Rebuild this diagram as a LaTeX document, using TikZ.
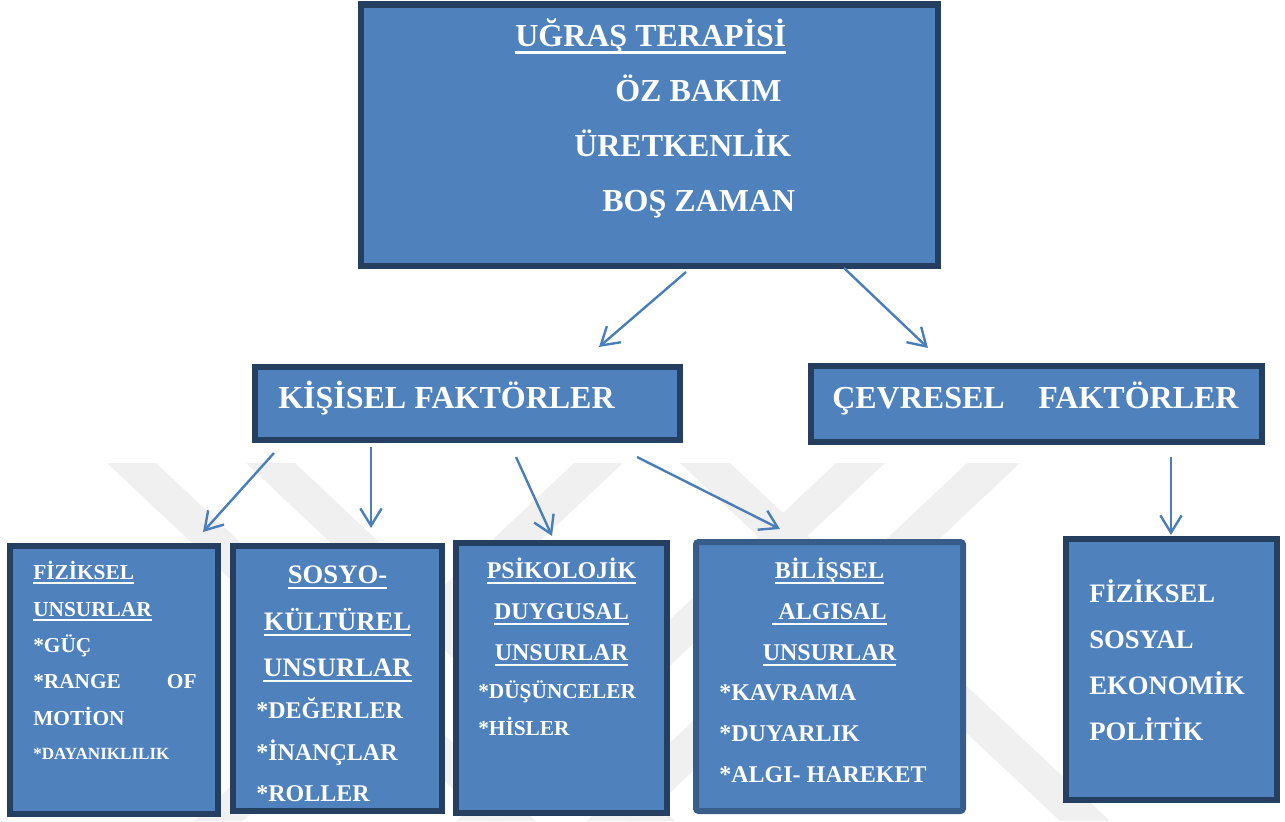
\documentclass[tikz,border=0pt]{standalone}
\usepackage{fontspec}
\setmainfont{Liberation Serif}
\usetikzlibrary{arrows.meta,fit}
\definecolor{boxfill}{HTML}{4F81BD}
\definecolor{boxline}{HTML}{243F60}
\definecolor{boxlinetwo}{HTML}{385D8A}
\definecolor{arrowcol}{HTML}{4A7EBB}
\definecolor{wm}{HTML}{F0F0F0}
\newcommand{\ulx}[1]{\setbox0\hbox{#1}\rlap{\rule[-0.24em]{\wd0}{0.09em}}\box0}
\newcommand{\fs}[1]{\fontsize{#1}{#1}\selectfont\bfseries}
\begin{document}
\begin{tikzpicture}[x=0.75pt,y=-0.75pt,
  box/.style={draw=boxline, fill=boxfill, line width=4.5pt, inner sep=0pt},
  txt/.style={text=white, anchor=base west, inner sep=0pt},
  ctxt/.style={text=white, anchor=base, inner sep=0pt},
  conn/.style={draw=arrowcol, line width=1.8pt, -{Straight Barb[length=13pt,width=16pt,line width=1.8pt]}},
  wmband/.style={fill=wm},
]
\useasboundingbox (0,0) rectangle (1285,821);
% watermark (faint background logo)
\fill[wmband] (107,463) -- (156,463) -- (536,821) -- (487,821) -- cycle;
\fill[wmband] (246,463) -- (295,463) -- (675,821) -- (626,821) -- cycle;
\fill[wmband] (680,463) -- (730,463) -- (1110,821) -- (1060,821) -- cycle;
\fill[wmband] (574,463) -- (623,463) -- (243,821) -- (194,821) -- cycle;
\fill[wmband] (836,463) -- (885,463) -- (505,821) -- (456,821) -- cycle;
\fill[wmband] (967,463) -- (1020,463) -- (640,821) -- (587,821) -- cycle;

% boxes
\node[box, fit={(360.5,4.5) (937.5,265.5)}] (top) {};
\node[box, fit={(255,367) (680,440)}] (kis) {};
\node[box, fit={(811,366) (1262,442)}] (cev) {};
\node[box, fit={(10,546) (218,814)}] (fiz) {};
\node[box, fit={(233,546) (442,811)}] (sos) {};
\node[box, fit={(456,543) (667,813)}] (psi) {};
\node[box, draw=boxlinetwo, rounded corners=2pt, fit={(696,542) (963,811)}] (bil) {};
\node[box, fit={(1066,539) (1277,800)}] (cevd) {};

% top box text
\node[txt, font=\fs{24}] (t1) at (515,46) {\ulx{UĞRAŞ TERAPİSİ}};
\node[txt, font=\fs{24}] (t2) at (615,101) {ÖZ BAKIM};
\node[txt, font=\fs{24}] (t3) at (574,156) {ÜRETKENLİK};
\node[txt, font=\fs{24}] (t4) at (602,211) {BOŞ ZAMAN};

\node[txt, font=\fs{24}] (k1) at (278,408) {KİŞİSEL FAKTÖRLER};
\node[txt, font=\fs{24}] (c1) at (832,408) {ÇEVRESEL};
\node[txt, font=\fs{24}] (c2) at (1038,408) {FAKTÖRLER};

% box 1
\node[txt, font=\fs{16}] (f1) at (33,579) {\ulx{FİZİKSEL}};
\node[txt, font=\fs{16}] (f2) at (33,616) {\ulx{UNSURLAR}};
\node[txt, font=\fs{16}] (f3) at (33,652) {*GÜÇ};
\node[txt, font=\fs{16}] (f4) at (33,688) {\hbox to 122.5pt{*RANGE\hfill OF}};
\node[txt, font=\fs{16}] (f5) at (33,725) {MOTİON};
\node[txt, font=\fs{12.8}] (f6) at (33,759) {*DAYANIKLILIK};

% box 2
\node[ctxt, font=\fs{20}] (s1) at (337.5,583) {\ulx{SOSYO-}};
\node[ctxt, font=\fs{20}] (s2) at (337.5,630) {\ulx{KÜLTÜREL}};
\node[ctxt, font=\fs{20}] (s3) at (337.5,676) {\ulx{UNSURLAR}};
\node[txt, font=\fs{18}] (s4) at (256,718) {*DEĞERLER};
\node[txt, font=\fs{18}] (s5) at (256,760) {*İNANÇLAR};
\begin{scope}
\clip (233,546) rectangle (442,801);
\node[txt, font=\fs{18}] (s6) at (256,801) {*ROLLER};
\end{scope}

% box 3
\node[ctxt, font=\fs{18}] (p1) at (561.5,578) {\ulx{PSİKOLOJİK}};
\node[ctxt, font=\fs{18}] (p2) at (561.5,619) {\ulx{DUYGUSAL}};
\node[ctxt, font=\fs{18}] (p3) at (561.5,660) {\ulx{UNSURLAR}};
\node[txt, font=\fs{16}] (p4) at (478,698) {*DÜŞÜNCELER};
\node[txt, font=\fs{16}] (p5) at (478,735) {*HİSLER};

% box 4
\node[ctxt, font=\fs{18}] (b1) at (829.5,578) {\ulx{BİLİŞSEL}};
\node[ctxt, font=\fs{18}] (b2) at (829.5,619) {\ulx{\ ALGISAL}};
\node[ctxt, font=\fs{18}] (b3) at (829.5,660) {\ulx{UNSURLAR}};
\node[txt, font=\fs{18}] (b4) at (719,700) {*KAVRAMA};
\node[txt, font=\fs{18}] (b5) at (719,741) {*DUYARLIK};
\node[txt, font=\fs{18}] (b6) at (719,782) {*ALGI- HAREKET};

% box 5
\node[txt, font=\fs{20}] (e1) at (1089,602) {FİZİKSEL};
\node[txt, font=\fs{20}] (e2) at (1089,648) {SOSYAL};
\node[txt, font=\fs{20}] (e3) at (1089,694) {EKONOMİK};
\node[txt, font=\fs{20}] (e4) at (1089,740) {POLİTİK};

% connectors
\coordinate (a1s) at (686,272); \coordinate (a1e) at (599,347);
\coordinate (a2s) at (844,268); \coordinate (a2e) at (928,348);
\coordinate (a3s) at (274,453); \coordinate (a3e) at (203,532);
\coordinate (a4s) at (371,447); \coordinate (a4e) at (371,528);
\coordinate (a5s) at (516,457); \coordinate (a5e) at (552,536);
\coordinate (a6s) at (637,457); \coordinate (a6e) at (780,529);
\coordinate (a7s) at (1171,457); \coordinate (a7e) at (1171,535);
\draw[conn] (a1s) -- (a1e);
\draw[conn] (a2s) -- (a2e);
\draw[conn] (a3s) -- (a3e);
\draw[conn] (a4s) -- (a4e);
\draw[conn] (a5s) -- (a5e);
\draw[conn] (a6s) -- (a6e);
\draw[conn] (a7s) -- (a7e);
\end{tikzpicture}
\end{document}
